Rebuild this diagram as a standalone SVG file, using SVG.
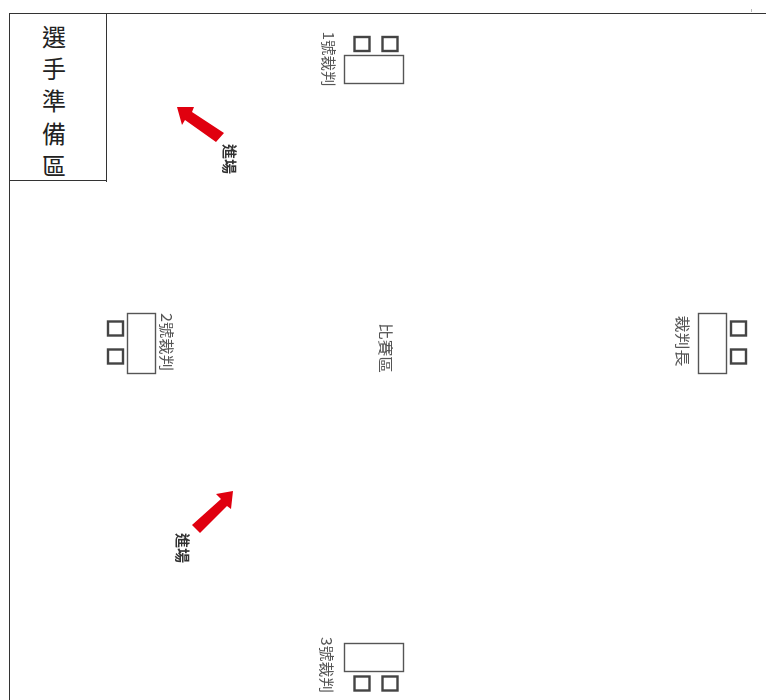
<svg xmlns="http://www.w3.org/2000/svg" width="766" height="700" viewBox="0 0 766 700">
<defs>
<style>
.rule{stroke:#333;stroke-width:1;fill:none}
.tbl{fill:#fff;stroke:#555;stroke-width:1.4}
.chair{fill:#fff;stroke:#444;stroke-width:2.4}
.lbl{font-family:"Noto Sans CJK TC","Liberation Serif",serif;font-size:15px;fill:#555;text-anchor:middle;dominant-baseline:central;filter:url(#soft)}
.in{font-family:"Noto Sans CJK TC","Liberation Sans",sans-serif;font-size:15px;font-weight:700;fill:#333;text-anchor:middle;dominant-baseline:central;filter:url(#soft)}
.zone{font-family:"Noto Sans CJK TC",serif;font-size:24px;fill:#222;text-anchor:middle;dominant-baseline:central}
.arrow{fill:#e0000f}
</style>
<filter id="soft" x="-20%" y="-20%" width="140%" height="140%"><feGaussianBlur stdDeviation="0.35"/></filter>
</defs>
<rect width="766" height="700" fill="#fff"/>
<g id="frame">
<path class="rule" d="M9 13.5H766M9.5 13V700"/>
<path d="M751.5 9V12" stroke="#bbb" stroke-width="1"/>
</g>
<g id="player-area">
<path class="rule" d="M106.5 14V182M9 180.5H107"/>
<text class="zone" x="54" y="35">選</text>
<text class="zone" x="54" y="67">手</text>
<text class="zone" x="54" y="99">準</text>
<text class="zone" x="54" y="132">備</text>
<text class="zone" x="54" y="164">區</text>
</g>
<g id="judge-1">
<rect class="tbl" x="344.5" y="55.5" width="59" height="28"/>
<rect class="chair" x="354.5" y="37" width="15" height="14"/>
<rect class="chair" x="382.5" y="37" width="15" height="14"/>
<text class="lbl" transform="translate(330 59) rotate(90)" textLength="55" lengthAdjust="spacingAndGlyphs">1號裁判</text>
</g>
<g id="judge-2">
<rect class="tbl" x="127.5" y="313.5" width="28" height="60"/>
<rect class="chair" x="108" y="321.5" width="15" height="14"/>
<rect class="chair" x="108" y="349.5" width="15" height="14"/>
<text class="lbl" transform="translate(168 342) rotate(90)" textLength="58" lengthAdjust="spacingAndGlyphs">2號裁判</text>
</g>
<g id="chief-judge">
<rect class="tbl" x="698.5" y="313.5" width="28" height="60"/>
<rect class="chair" x="731" y="321.5" width="15" height="14"/>
<rect class="chair" x="731" y="349.5" width="15" height="14"/>
<text class="lbl" transform="translate(684 341) rotate(90)" textLength="51" lengthAdjust="spacingAndGlyphs">裁判長</text>
</g>
<g id="judge-3">
<rect class="tbl" x="344.5" y="643.5" width="59" height="28"/>
<rect class="chair" x="354.5" y="676.5" width="15" height="14"/>
<rect class="chair" x="382.5" y="676.5" width="15" height="14"/>
<text class="lbl" transform="translate(328 665) rotate(90)" textLength="56" lengthAdjust="spacingAndGlyphs">3號裁判</text>
</g>
<g id="competition-area">
<text class="lbl" transform="translate(387 348) rotate(90)" textLength="50" lengthAdjust="spacingAndGlyphs">比賽區</text>
</g>
<g id="connectors">
<polygon class="arrow" points="177,107 194,107 192,112 224,133 216,142 185,120 182,125"/>
<polygon class="arrow" points="233,491 216,494 221,499 192,525 200,533 227,506 231,509"/>
</g>
<g id="entry-1">
<text class="in" transform="translate(231 159) rotate(90)">進場</text>
</g>
<g id="entry-2">
<text class="in" transform="translate(184 548) rotate(90)">進場</text>
</g>
</svg>
